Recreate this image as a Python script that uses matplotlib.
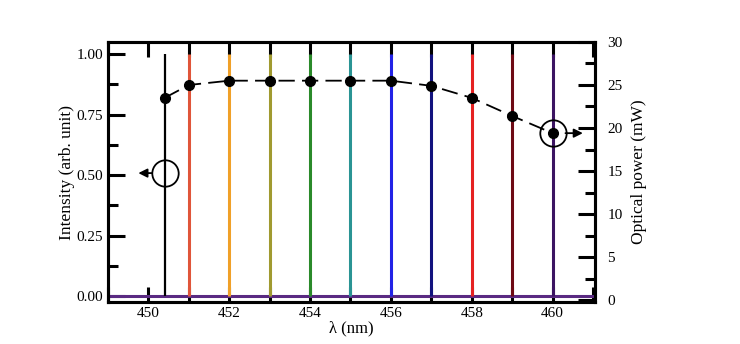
import matplotlib
matplotlib.use("Agg")
import matplotlib.pyplot as plt
from matplotlib.ticker import MultipleLocator, FormatStrFormatter

plt.rcParams['font.family'] = ['Liberation Serif', 'DejaVu Serif']

# Emission peaks: centre wavelength (nm), peak intensity and line colour
peak_wl = [450.4, 451, 452, 453, 454, 455, 456, 457, 458, 459, 460]
peak_int = [1.0] * 11
peak_colors = ["#000000", "#e0553a", "#f0a028", "#a09a30", "#2a8a2a",
               "#2a9494", "#2222e6", "#12127e", "#e52222", "#6e0a14", "#3c1462"]
baseline_color = "#5a2a82"

# Measured optical output power at each wavelength (mW)
power_mw = [23.5, 25.0, 25.5, 25.5, 25.5, 25.5, 25.5, 24.9, 23.5, 21.4, 19.4]

x_ticks = [450, 452, 454, 456, 458, 460]

fig = plt.figure(figsize=(7.4, 3.44), dpi=100)
ax = fig.add_axes([0.146, 0.122, 0.658, 0.756])
ax2 = ax.twinx()

# Spectra: narrow vertical peaks on a flat baseline
ax.axhline(0, color=baseline_color, lw=2.2, zorder=2)
for wl, h, c in zip(peak_wl, peak_int, peak_colors):
    lw = 1.6 if c == "#000000" else 2.2
    ax.plot([wl, wl], [0, h], color=c, lw=lw, solid_capstyle='butt', zorder=3)

ax.set_xlim(449, 461.05)
ax.set_ylim(-0.025, 1.05)
ax.set_xticks(x_ticks)
ax.xaxis.set_minor_locator(MultipleLocator(1))
ax.yaxis.set_major_locator(MultipleLocator(0.25))
ax.yaxis.set_minor_locator(MultipleLocator(0.125))
ax.yaxis.set_major_formatter(FormatStrFormatter('%.2f'))
ax.tick_params(axis='x', which='both', direction='in', top=True, length=11, width=2.2, labelsize=11)
ax.tick_params(axis='y', which='major', direction='in', length=12, width=2.2, labelsize=11)
ax.tick_params(axis='y', which='minor', direction='in', length=7, width=2.2)
ax.set_xlabel("λ (nm)", fontsize=12, labelpad=0)
ax.set_ylabel("Intensity (arb. unit)", fontsize=12.5, labelpad=1)

# Optical power curve on the right axis
ax2.plot(peak_wl, power_mw, color='black', lw=1.3, ls=(0, (9, 4)),
         marker='o', markersize=7, zorder=5)
ax2.set_ylim(-0.23, 30)
ax2.yaxis.set_major_locator(MultipleLocator(5))
ax2.yaxis.set_minor_locator(MultipleLocator(2.5))
ax2.tick_params(axis='y', which='major', direction='in', length=12, width=2.2, labelsize=11, pad=9)
ax2.tick_params(axis='y', which='minor', direction='in', length=7, width=2.2)
ax2.set_ylabel("Optical power (mW)", fontsize=12.5, labelpad=6)

for a in (ax, ax2):
    for s in a.spines.values():
        s.set_linewidth(2.2)

# Axis indicators: open circles with arrows pointing to their axes
ax.plot([peak_wl[0]], [0.508], marker='o', mfc='none', mec='black', mew=1.3, markersize=19, zorder=6)
ax.annotate("", xy=(449.75, 0.508), xytext=(450.08, 0.508),
            arrowprops=dict(arrowstyle='-|>', color='black', lw=1.3, mutation_scale=13,
                            shrinkA=0, shrinkB=0))
ax2.plot([peak_wl[-1]], [power_mw[-1]], marker='o', mfc='none', mec='black', mew=1.3, markersize=19, zorder=6)
ax2.annotate("", xy=(460.75, power_mw[-1]), xytext=(460.32, power_mw[-1]),
             arrowprops=dict(arrowstyle='-|>', color='black', lw=1.3, mutation_scale=13,
                             shrinkA=0, shrinkB=0))

fig.savefig("out.png", dpi=100)
